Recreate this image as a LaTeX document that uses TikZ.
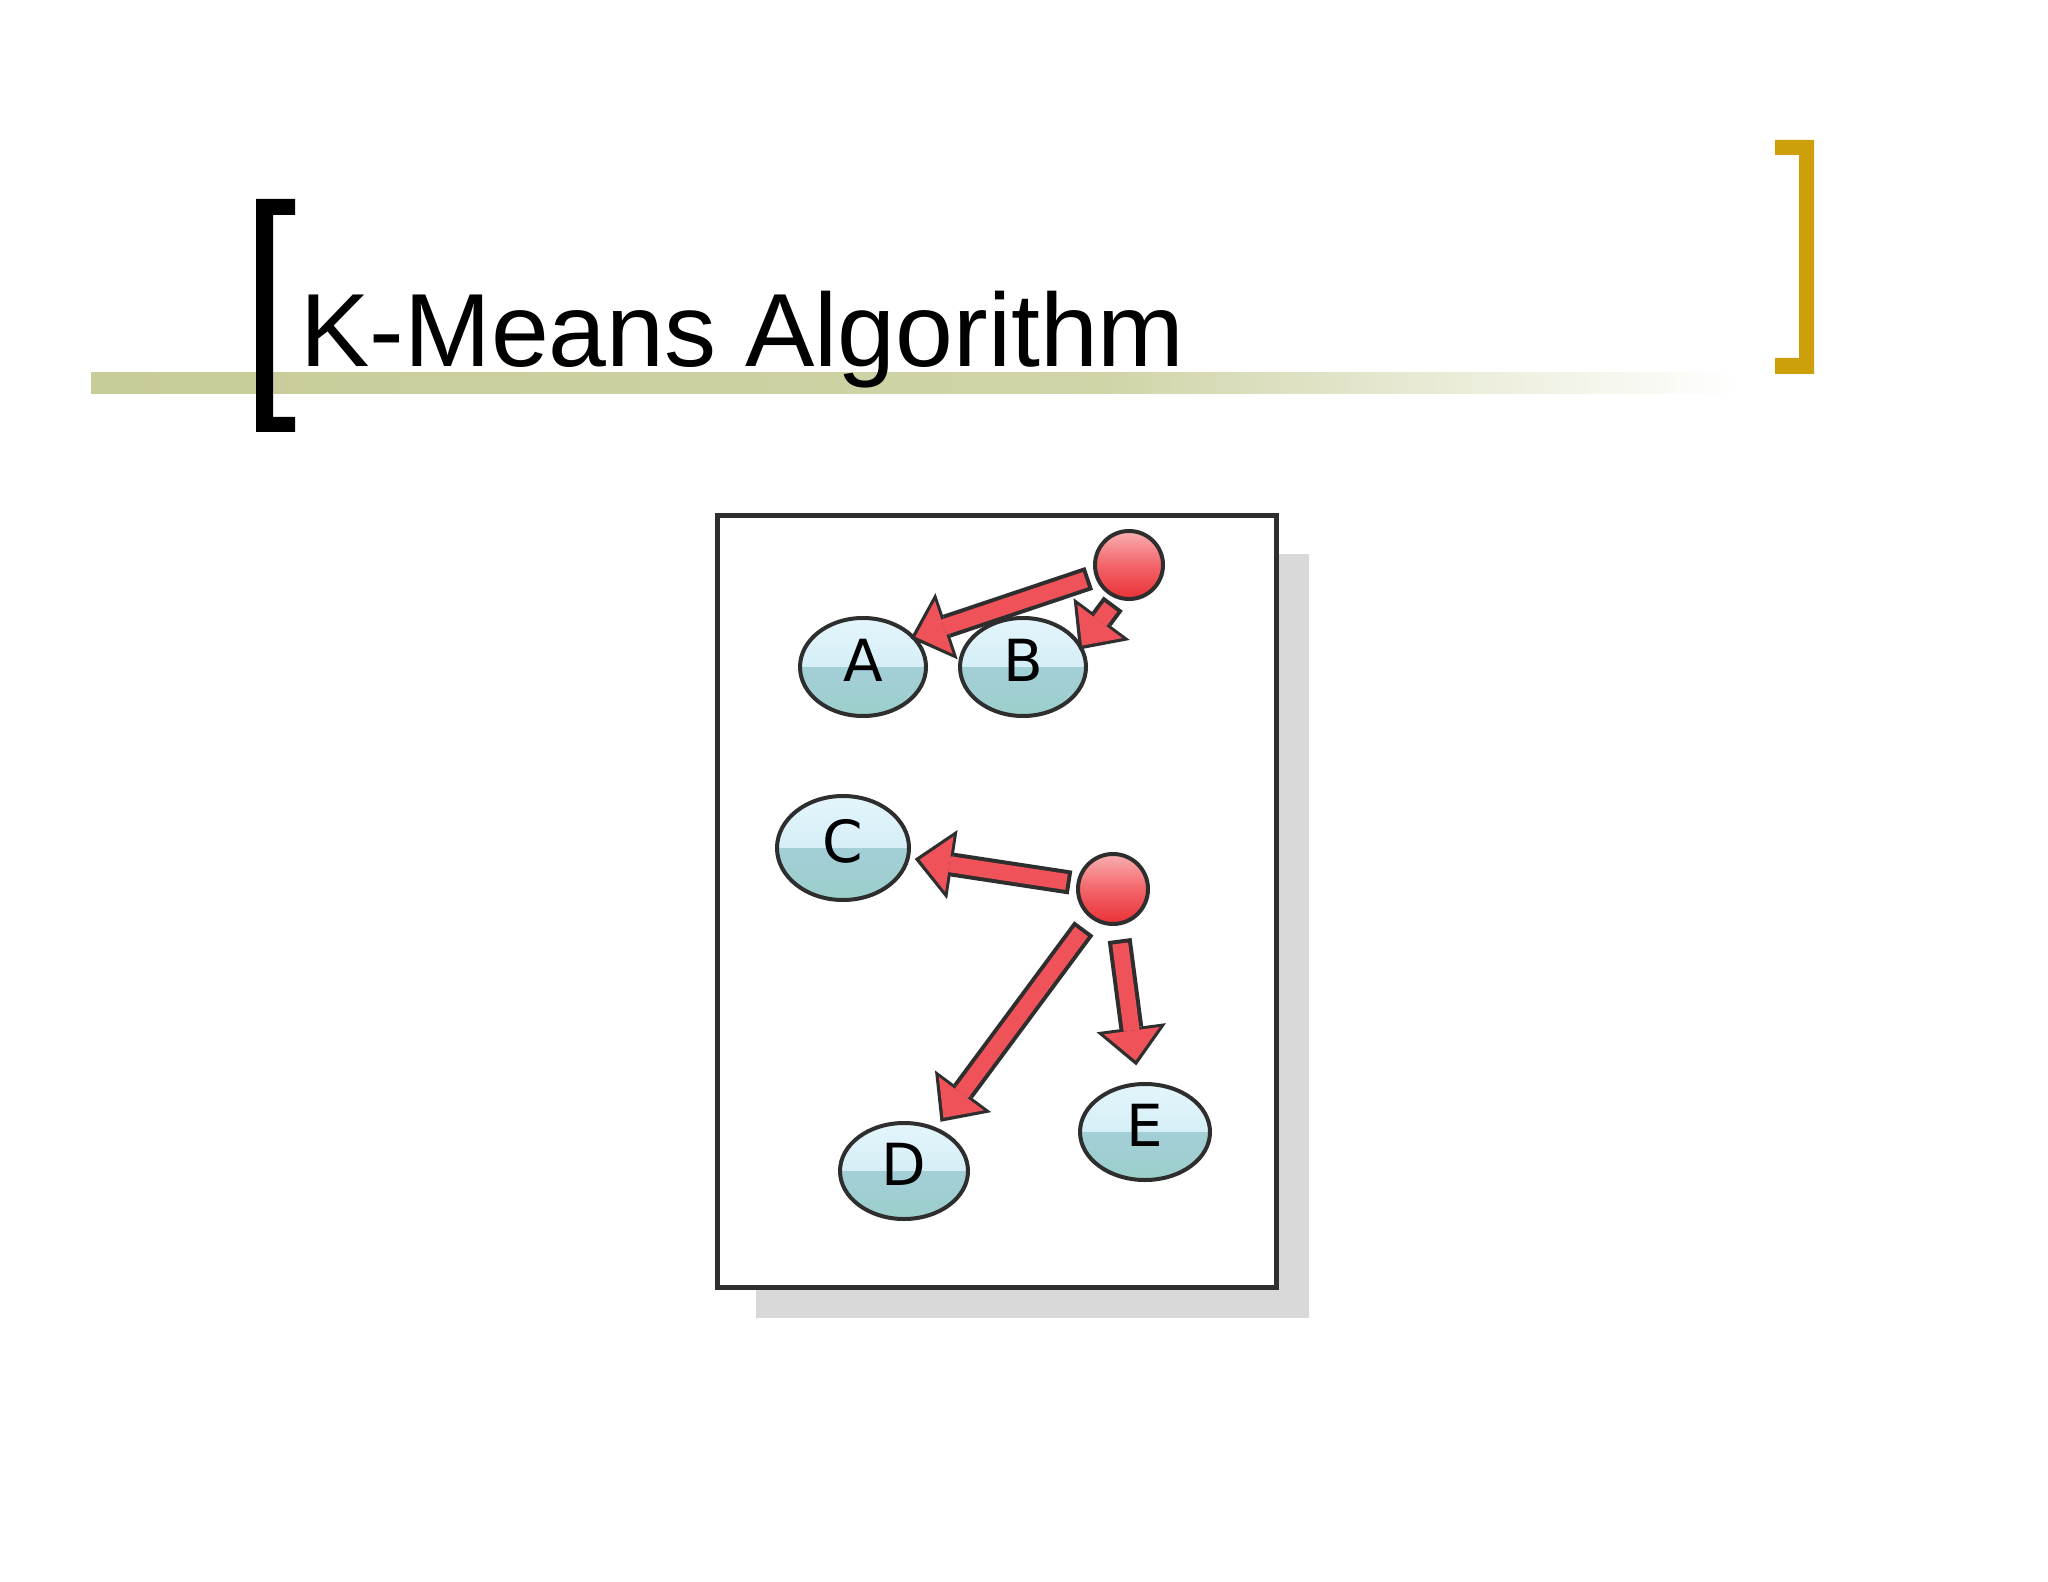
\documentclass[tikz,border=0pt]{standalone}
\usepackage{fontspec}
\setmainfont{Liberation Sans}
\newfontfamily\labelfont{DejaVu Sans}
\usetikzlibrary{positioning, shapes.geometric, arrows.meta}

\definecolor{barolive}{HTML}{C8CC98}
\definecolor{bracketgold}{HTML}{CD9F0B}
\definecolor{frameline}{HTML}{2E2E2E}
\definecolor{shadowgrey}{HTML}{D9D9D9}
\definecolor{pointtop}{HTML}{E4F5FB}
\definecolor{pointmid}{HTML}{C7E8F3}
\definecolor{pointwave}{HTML}{AACFE4}
\definecolor{pointlow}{HTML}{9CCFCB}
\definecolor{meantop}{HTML}{FAB0B2}
\definecolor{meanmid}{HTML}{F2656A}
\definecolor{meanlow}{HTML}{EA3136}
\definecolor{arrowred}{HTML}{F0525A}

\begin{document}
\begin{tikzpicture}[x=0.5pt, y=-0.5pt,
  point/.style={ellipse, draw=frameline, line width=2pt, inner sep=0pt,
    text depth=7pt, top color=pointtop, bottom color=pointmid,
    path picture={\shade[top color=pointwave, bottom color=pointlow]
      (path picture bounding box.west) rectangle (path picture bounding box.south east);},
    font={\labelfont\fontsize{29}{29}\selectfont}},
  mean/.style={circle, draw=frameline, line width=2pt, inner sep=0pt,
    top color=meantop, bottom color=meanlow, middle color=meanmid},
  fat/.style 2 args={preaction={draw=frameline, line width=12pt,
      -{Triangle[length=19pt,width=35pt,line width=0pt]},
      shorten <=#1-2pt, shorten >=#2-2.5pt},
    draw=arrowred, line width=8pt,
    -{Triangle[length=15pt,width=28pt,line width=0pt]},
    shorten <=#1, shorten >=#2}]
\useasboundingbox (0,0) rectangle (2048,1582);

% title bar and brackets
\fill[left color=barolive, right color=barolive!85!white] (91,373) rectangle (1102,394);
\fill[left color=barolive!85!white, right color=white] (1100,373) rectangle (1737,394);
\fill (295,199) -- (256,199) -- (256,432) -- (295,432) -- (295,417) -- (273,417)
  -- (273,215) -- (295,215) -- cycle;
\fill[bracketgold] (1775,140) -- (1814,140) -- (1814,374) -- (1775,374) -- (1775,358)
  -- (1799,358) -- (1799,155) -- (1775,155) -- cycle;
\node[anchor=base west, inner sep=0pt, font=\fontsize{52}{52}\selectfont] (title)
  at (300,367) {K-Means Algorithm};

% frame with shadow
\fill[shadowgrey] (756,554) rectangle (1309,1318);
\draw[frameline, line width=2.5pt, fill=white] (717,516) rectangle (1276,1287);

% points
\node[point, minimum width=63pt, minimum height=49pt] (A) at (863,667) {A};
\node[point, minimum width=63pt, minimum height=49pt] (B) at (1023,667) {B};
\node[point, minimum width=66pt, minimum height=52pt] (C) at (843,848) {C};
\node[point, minimum width=64pt, minimum height=48pt] (D) at (904,1171) {D};
\node[point, minimum width=65pt, minimum height=48pt] (E) at (1145,1132) {E};

% means
\node[mean, minimum size=34pt] (cAB) at (1129,565) {};
\node[mean, minimum size=35pt] (cCDE) at (1113,889) {};

\draw[fat={5pt}{0pt}] (cAB) -- (A.30);
\draw[fat={5pt}{0pt}] (cAB.-110) -- (B.20);
\draw[fat={5pt}{5pt}] (cCDE) -- (C);
\draw[fat={8pt}{6pt}] (cCDE) -- (D);
\draw[fat={9pt}{11pt}] (cCDE) -- (E);
\end{tikzpicture}
\end{document}
